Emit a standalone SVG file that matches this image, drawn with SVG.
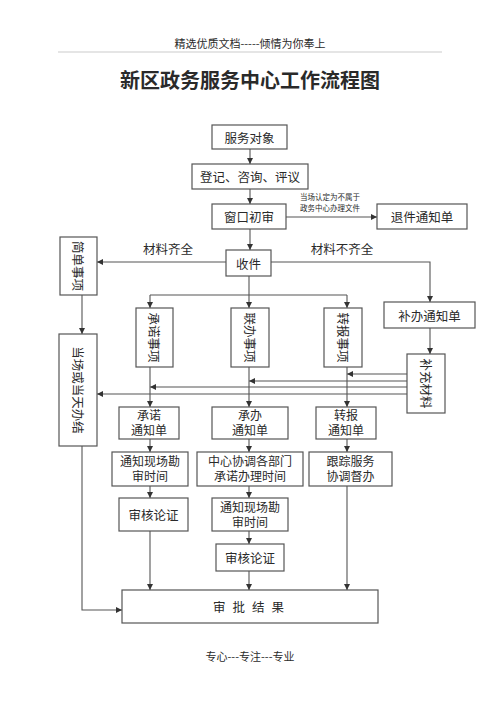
<svg xmlns="http://www.w3.org/2000/svg" width="500" height="708" viewBox="0 0 500 708">
<style>
text{font-family:"Noto Sans CJK SC","Noto Sans CJK JP",sans-serif;fill:#2a2a2a;}
.box{fill:#fff;stroke:#555;stroke-width:1.2;}
.t{font-size:12.5px;text-anchor:middle;dominant-baseline:central;}
.t2{font-size:12px;text-anchor:middle;}
.s{font-size:7.5px;}
.ln{fill:none;stroke:#555;stroke-width:1.1;}
.ar{fill:none;stroke:#555;stroke-width:1.1;marker-end:url(#ah);}
</style>
<defs>
<marker id="ah" viewBox="0 0 8 8" refX="8" refY="4" markerWidth="6" markerHeight="6" markerUnits="userSpaceOnUse" orient="auto">
<path d="M0,0 L8,4 L0,8 z" fill="#333"/>
</marker>
</defs>
<rect width="500" height="708" fill="#fff"/>
<g id="header">
<text x="250" y="43" font-size="11" text-anchor="middle" dominant-baseline="central" fill="#555">精选优质文档-----倾情为你奉上</text>
<line x1="58" y1="52" x2="442" y2="52" stroke="#ccc" stroke-width="1.2"/>
<text x="250" y="79" font-size="20" font-weight="bold" text-anchor="middle" dominant-baseline="central" fill="#111">新区政务服务中心工作流程图</text>
</g>
<g id="connectors">
<line class="ar" x1="250" y1="149" x2="250" y2="164"/>
<line class="ar" x1="250" y1="189" x2="250" y2="204"/>
<line class="ar" x1="250" y1="229" x2="250" y2="250"/>
<line class="ar" x1="286" y1="217" x2="377" y2="217"/>
<line class="ar" x1="226" y1="262" x2="97" y2="262"/>
<polyline class="ar" points="271,262 430,262 430,302"/>
<line class="ln" x1="249" y1="276" x2="249" y2="295"/>
<line class="ln" x1="150" y1="295" x2="347" y2="295"/>
<line class="ar" x1="150" y1="295" x2="150" y2="308"/>
<line class="ar" x1="249" y1="295" x2="249" y2="308"/>
<line class="ar" x1="347" y1="295" x2="347" y2="308"/>
<line class="ar" x1="82" y1="295" x2="82" y2="334"/>
<line class="ar" x1="430" y1="328" x2="430" y2="354"/>
<line class="ar" x1="407" y1="374" x2="347" y2="374"/>
<line class="ar" x1="407" y1="381" x2="249" y2="381"/>
<line class="ar" x1="407" y1="387" x2="150" y2="387"/>
<line class="ar" x1="407" y1="394" x2="97" y2="394"/>
<line class="ar" x1="150" y1="367" x2="150" y2="407"/>
<line class="ar" x1="249" y1="367" x2="249" y2="407"/>
<line class="ar" x1="347" y1="367" x2="347" y2="407"/>
<line class="ar" x1="150" y1="439" x2="150" y2="452"/>
<line class="ar" x1="249" y1="439" x2="249" y2="452"/>
<line class="ar" x1="347" y1="439" x2="347" y2="452"/>
<line class="ar" x1="150" y1="486" x2="150" y2="498"/>
<line class="ar" x1="249" y1="486" x2="249" y2="498"/>
<line class="ar" x1="249" y1="531" x2="249" y2="544"/>
<line class="ar" x1="150" y1="531" x2="150" y2="590"/>
<line class="ar" x1="249" y1="571" x2="249" y2="590"/>
<line class="ar" x1="347" y1="486" x2="347" y2="590"/>
<polyline class="ar" points="82,446 82,610 122,610"/>
<text class="s" x="300" y="200">当场认定为不属于<tspan x="300" dy="11">政务中心办理文件</tspan></text>
<text class="t" x="168" y="248">材料齐全</text>
<text class="t" x="342" y="248">材料不齐全</text>
</g>
<g id="n1"><rect class="box" x="212" y="125" width="75" height="24"/><text class="t" x="249.5" y="137">服务对象</text></g>
<g id="n2"><rect class="box" x="192" y="164" width="116" height="25"/><text class="t" x="250" y="176.5">登记、咨询、评议</text></g>
<g id="n3"><rect class="box" x="212" y="204" width="74" height="25"/><text class="t" x="249" y="216.5">窗口初审</text></g>
<g id="n4"><rect class="box" x="377" y="204" width="90" height="25"/><text class="t" x="422" y="216.5">退件通知单</text></g>
<g id="n5"><rect class="box" x="226" y="250" width="45" height="26"/><text class="t" x="248.5" y="263">收件</text></g>
<g id="n6"><rect class="box" x="60" y="237" width="37" height="58"/><text class="t" transform="translate(78.5,266) rotate(90)">简单事项</text></g>
<g id="n7"><rect class="box" x="384" y="302" width="91" height="26"/><text class="t" x="429.5" y="315">补办通知单</text></g>
<g id="n8"><rect class="box" x="136" y="308" width="37" height="59"/><text class="t" transform="translate(154.5,337.5) rotate(90)">承诺事项</text></g>
<g id="n9"><rect class="box" x="231" y="308" width="38" height="59"/><text class="t" transform="translate(250,337.5) rotate(90)">联办事项</text></g>
<g id="n10"><rect class="box" x="324" y="308" width="38" height="59"/><text class="t" transform="translate(343,337.5) rotate(90)">转报事项</text></g>
<g id="n11"><rect class="box" x="59" y="334" width="38" height="112"/><text class="t" transform="translate(78,390) rotate(90)">当场或当天办结</text></g>
<g id="n12"><rect class="box" x="407" y="354" width="38" height="59"/><text class="t" transform="translate(426,383.5) rotate(90)">补充材料</text></g>
<g id="n13"><rect class="box" x="119" y="407" width="60" height="32"/><text class="t2" x="149" y="420">承诺<tspan x="149" dy="15">通知单</tspan></text></g>
<g id="n14"><rect class="box" x="212" y="407" width="76" height="32"/><text class="t2" x="250" y="420">承办<tspan x="250" dy="15">通知单</tspan></text></g>
<g id="n15"><rect class="box" x="316" y="407" width="60" height="32"/><text class="t2" x="346" y="420">转报<tspan x="346" dy="15">通知单</tspan></text></g>
<g id="n16"><rect class="box" x="112" y="452" width="76" height="34"/><text class="t2" x="150" y="466">通知现场勘<tspan x="150" dy="15">审时间</tspan></text></g>
<g id="n17"><rect class="box" x="197" y="452" width="106" height="34"/><text class="t2" x="250" y="466">中心协调各部门<tspan x="250" dy="15">承诺办理时间</tspan></text></g>
<g id="n18"><rect class="box" x="309" y="452" width="83" height="34"/><text class="t2" x="350.5" y="466">跟踪服务<tspan x="350.5" dy="15">协调督办</tspan></text></g>
<g id="n19"><rect class="box" x="119" y="498" width="69" height="33"/><text class="t" x="153.5" y="514.5">审核论证</text></g>
<g id="n20"><rect class="box" x="212" y="498" width="76" height="33"/><text class="t2" x="250" y="511.5">通知现场勘<tspan x="250" dy="15">审时间</tspan></text></g>
<g id="n21"><rect class="box" x="216" y="544" width="68" height="27"/><text class="t" x="250" y="557.5">审核论证</text></g>
<g id="n22"><rect class="box" x="122" y="590" width="256" height="33"/><text class="t" x="252" y="606.5" letter-spacing="7">审批结果</text></g>
<g id="footer"><text x="250" y="656" font-size="11" text-anchor="middle" dominant-baseline="central" fill="#555">专心---专注---专业</text></g>
</svg>
